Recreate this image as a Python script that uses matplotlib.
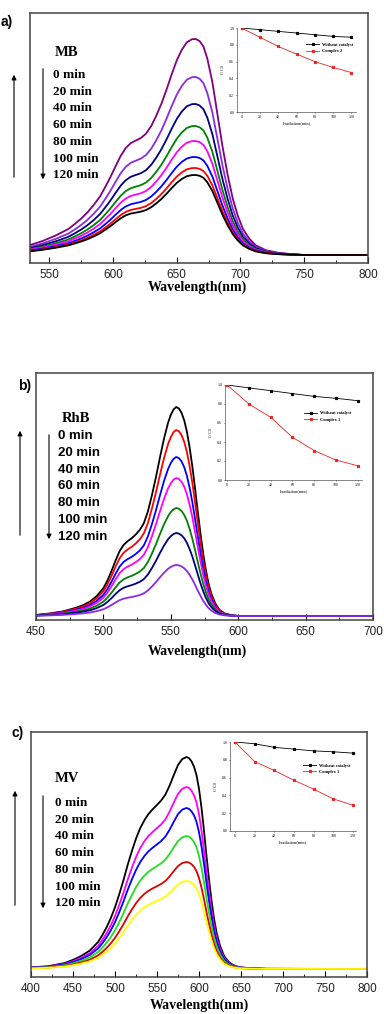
import matplotlib
matplotlib.use("Agg")
import matplotlib.pyplot as plt
from matplotlib.patches import FancyArrowPatch

W, H = 384, 1014

# ---------------- data ----------------
time_labels = ["0 min", "20 min", "40 min", "60 min", "80 min", "100 min", "120 min"]
irr_time = [0, 20, 40, 60, 80, 100, 120]

# (a) MB: normalised band profile and peak heights of each scan
wl_a = [535, 545, 555, 565, 570, 575, 580, 585, 590, 594, 598, 602, 606, 610, 614, 618,
        622, 626, 630, 634, 638, 642, 646, 650, 654, 658, 662, 665, 668, 671, 674, 678,
        682, 686, 690, 694, 698, 702, 707, 712, 720, 730, 740, 750, 800]
shape_a = [0.046, 0.065, 0.09, 0.12, 0.143, 0.168, 0.197, 0.232, 0.272, 0.315, 0.36,
           0.41, 0.458, 0.495, 0.518, 0.53, 0.542, 0.562, 0.597, 0.645, 0.70, 0.765,
           0.835, 0.90, 0.95, 0.985, 0.999, 1.0, 0.99, 0.965, 0.91, 0.80, 0.65, 0.50,
           0.37, 0.26, 0.18, 0.12, 0.075, 0.045, 0.022, 0.01, 0.004, 0.0, 0.0]
peaks_a = [2.16, 1.78, 1.51, 1.29, 1.14, 0.98, 0.87, 0.80]
base_a = 0.08
colors_a = ["#800080", "#8A2BE2", "#000080", "#008000", "#FF00FF", "#0000FF", "#FF0000", "#000000"]
nocat_a = [1.0, 0.98, 0.96, 0.94, 0.92, 0.90, 0.89]
cplx_a = [1.0, 0.89, 0.78, 0.69, 0.60, 0.53, 0.47]

# (b) RhB
wl_b = [450, 460, 470, 480, 485, 490, 495, 500, 503, 506, 509, 512, 515, 518, 521, 524,
        527, 530, 533, 536, 539, 542, 545, 548, 550, 552, 554, 556, 558, 560, 562, 564,
        566, 568, 570, 572, 574, 576, 578, 580, 583, 586, 590, 595, 600, 700]
shape_b = [0.005, 0.012, 0.022, 0.04, 0.052, 0.069, 0.095, 0.133, 0.17, 0.215, 0.265,
           0.31, 0.34, 0.358, 0.372, 0.39, 0.412, 0.444, 0.50, 0.578, 0.665, 0.76, 0.85,
           0.925, 0.962, 0.988, 1.0, 0.993, 0.972, 0.935, 0.88, 0.805, 0.715, 0.61, 0.50,
           0.395, 0.30, 0.22, 0.155, 0.108, 0.06, 0.03, 0.012, 0.004, 0.0, 0.0]
peaks_b = [2.09, 1.86, 1.59, 1.38, 1.08, 0.83, 0.51]
base_b = 0.04
colors_b = ["#000000", "#FF0000", "#0000FF", "#FF00FF", "#008000", "#000080", "#8A2BE2"]
nocat_b = [1.0, 0.97, 0.94, 0.91, 0.88, 0.86, 0.835]
cplx_b = [1.0, 0.80, 0.66, 0.45, 0.31, 0.21, 0.15]

# (c) MV
wl_c = [400, 420, 440, 450, 460, 470, 480, 485, 490, 495, 500, 505, 510, 515, 520, 525,
        530, 535, 540, 545, 550, 555, 560, 565, 570, 575, 580, 585, 588, 591, 594, 597,
        600, 603, 606, 609, 612, 615, 618, 621, 625, 630, 635, 640, 645, 650, 660, 680, 800]
shape_c = [0.008, 0.013, 0.028, 0.043, 0.062, 0.087, 0.128, 0.16, 0.197, 0.24, 0.291,
           0.352, 0.418, 0.49, 0.555, 0.615, 0.664, 0.702, 0.732, 0.754, 0.774, 0.795,
           0.823, 0.865, 0.915, 0.962, 0.99, 1.0, 0.995, 0.98, 0.955, 0.915, 0.85, 0.76,
           0.65, 0.53, 0.42, 0.32, 0.235, 0.17, 0.11, 0.06, 0.035, 0.02, 0.012, 0.008,
           0.004, 0.001, 0.0]
peaks_c = [2.12, 1.82, 1.61, 1.33, 1.07, 0.88]
base_c = 0.08
colors_c = ["#000000", "#FF00FF", "#0000FF", "#22DD22", "#DD0000", "#FFFF00"]
nocat_c = [1.0, 0.98, 0.94, 0.92, 0.90, 0.89, 0.875]
cplx_c = [1.0, 0.78, 0.68, 0.57, 0.47, 0.36, 0.29]

SERIF = "Liberation Serif"
SANS = "Liberation Sans"


def rect(l, t, r, b):
    return [l / W, 1 - b / H, (r - l) / W, (b - t) / H]


def ftext(x, y, s, **kw):
    fig.text(x / W, 1 - y / H, s, va="center", **kw)


def arrow(x, y0, y1):
    fig.add_artist(FancyArrowPatch((x / W, 1 - y0 / H), (x / W, 1 - y1 / H),
                                   transform=fig.transFigure, arrowstyle="-|>",
                                   mutation_scale=7, lw=0.8, color="k"))


def main_panel(box, wl, shape, peaks, base, colors, xlim, ylim):
    ax = fig.add_axes(rect(*box))
    for p, c in zip(peaks, colors):
        ax.plot(wl, [base + p * s for s in shape], color=c, lw=1.3)
    ax.set_xlim(*xlim)
    ax.set_ylim(*ylim)
    ax.set_yticks([])
    ax.set_xticks(range(xlim[0] + (-xlim[0]) % 50, xlim[1] + 1, 50))
    ax.set_xticks(range(xlim[0] + (-xlim[0]) % 25, xlim[1] + 1, 25), minor=True)
    ax.tick_params(axis="x", which="both", direction="in", labelsize=8.5, pad=4,
                   labelcolor="#222222")
    ax.tick_params(axis="x", which="major", length=4)
    ax.tick_params(axis="x", which="minor", length=2.5)
    for lbl in ax.get_xticklabels():
        lbl.set_family(SANS)
    for s in ax.spines.values():
        s.set_color("#444444")
        s.set_linewidth(1.1)
    return ax


def inset(box, nocat, cplx, name, xlim, leg_y):
    ax = fig.add_axes(rect(*box))
    ax.plot(irr_time, nocat, color="k", lw=0.6, marker="s", ms=1.3, label="Without catalyst")
    ax.plot(irr_time, cplx, color="#EE2222", lw=0.6, marker="s", ms=1.3, label=name)
    ax.set_xlim(*xlim)
    ax.set_ylim(0, 1.0)
    ax.set_xticks(irr_time)
    ax.set_yticks([0.0, 0.2, 0.4, 0.6, 0.8, 1.0])
    ax.tick_params(labelsize=2.8, length=1, width=0.4, pad=1)
    for lbl in ax.get_xticklabels() + ax.get_yticklabels():
        lbl.set_family(SERIF)
    ax.set_xlabel("Irradiation(min)", fontsize=3.2, family=SERIF, labelpad=1.5)
    ax.set_ylabel("C/C$_0$", fontsize=3.2, family=SERIF, labelpad=1.5)
    for s in ["top", "right"]:
        ax.spines[s].set_visible(False)
    for s in ["left", "bottom"]:
        ax.spines[s].set_linewidth(0.5)
        ax.spines[s].set_color("#555555")
    ax.legend(loc="center left", bbox_to_anchor=(0.55, leg_y), frameon=False,
              prop={"family": SERIF, "size": 3.2, "weight": "bold"},
              handlelength=2.8, labelspacing=0.5)
    return ax


fig = plt.figure(figsize=(W / 100, H / 100), dpi=100)

# ---------------- (a) ----------------
main_panel((30, 13, 368, 263), wl_a, shape_a, peaks_a, base_a, colors_a, (535, 800), (0, 2.5))
inset((237, 28, 356, 112), nocat_a, cplx_a, "Complex 2", (-5, 125), 0.76)
ftext(1, 22, "a)", fontsize=10, weight="bold", family=SANS)
ftext(55, 52, "MB", fontsize=10.5, weight="bold", family=SERIF)
for i, t in enumerate(time_labels):
    ftext(53, 75 + i * 16.7, t, fontsize=9.5, weight="bold", family=SERIF)
arrow(14, 180, 72)
arrow(43, 66, 182)
ftext(197, 287, "Wavelength(nm)", fontsize=10, weight="bold", family=SERIF, ha="center")

# ---------------- (b) ----------------
main_panel((36, 373, 373, 620), wl_b, shape_b, peaks_b, base_b, colors_b, (450, 700), (0, 2.47))
inset((225, 385, 362, 480), nocat_b, cplx_b, "Complex 1", (-2, 124), 0.67)
ftext(18, 386, "b)", fontsize=10, weight="bold", family=SANS)
ftext(62, 418, "RhB", fontsize=10.5, weight="bold", family=SERIF)
for i, t in enumerate(time_labels):
    ftext(58, 436 + i * 16.8, t, fontsize=9.5, weight="bold", family=SANS)
arrow(20, 538, 428)
arrow(49, 432, 542)
ftext(197, 651, "Wavelength(nm)", fontsize=10, weight="bold", family=SERIF, ha="center")

# ---------------- (c) ----------------
main_panel((31, 732, 367, 977), wl_c, shape_c, peaks_c, base_c, colors_c, (400, 800), (0, 2.45))
inset((230, 742, 356, 831), nocat_c, cplx_c, "Complex 1", (-5, 123), 0.70)
ftext(12, 733, "c)", fontsize=10, weight="bold", family=SANS)
ftext(55, 779, "MV", fontsize=10.5, weight="bold", family=SERIF)
for i, t in enumerate(time_labels):
    ftext(55, 803 + i * 16.7, t, fontsize=9.5, weight="bold", family=SERIF)
arrow(15, 908, 788)
arrow(43, 793, 911)
ftext(199, 1005, "Wavelength(nm)", fontsize=10, weight="bold", family=SERIF, ha="center")

fig.savefig("out.png", dpi=100)
